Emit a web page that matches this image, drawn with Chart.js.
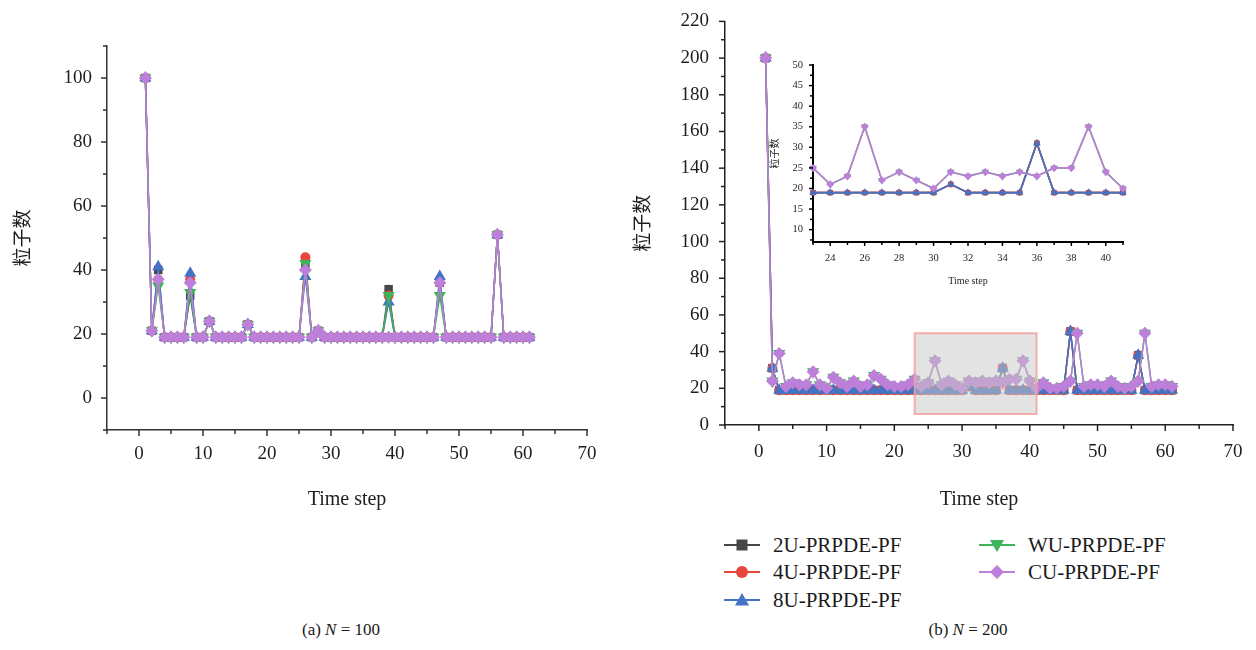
<!DOCTYPE html>
<html>
<head>
<meta charset="utf-8">
<title>粒子数 - Time step</title>
<script src="https://cdn.jsdelivr.net/npm/chart.js@4.4.1/dist/chart.umd.min.js"></script>
<style>
  body { margin: 0; background: #fff; }
  #page { position: relative; width: 1256px; height: 650px; overflow: hidden;
          font-family: "Liberation Serif", "DejaVu Serif", serif; color: #1a1a1a; }
  canvas { position: absolute; }
  .item { position: absolute; height: 24px; line-height: 24px; font-size: 21px; white-space: nowrap; }
  .item svg { position: absolute; left: 0; top: 4px; }
  .item span { position: absolute; left: 49px; top: 0; }
  .caption { position: absolute; top: 620px; font-size: 17px; text-align: center; }
</style>
</head>
<body>
<div id="page">
  <canvas id="chartA" width="620" height="520" style="left:0;top:0;width:620px;height:520px"></canvas>
  <canvas id="chartB" width="636" height="520" style="left:620px;top:0;width:636px;height:520px"></canvas>
  <canvas id="chartInset" width="390" height="245" style="left:760px;top:50px;width:390px;height:245px"></canvas>
  <div id="legend"></div>
  <div class="caption" style="left:0;width:682px">(a) <i>N</i> = 100</div>
  <div class="caption" style="left:680px;width:576px">(b) <i>N</i> = 200</div>
</div>
<script>
const steps = Array.from({ length: 61 }, (_, i) => i + 1);

const names = ['2U-PRPDE-PF', '4U-PRPDE-PF', '8U-PRPDE-PF', 'WU-PRPDE-PF', 'CU-PRPDE-PF'];

// particle counts, N = 100
const a2U = [100, 21, 40, 19, 19, 19, 19, 32, 19, 19,
             24, 19, 19, 19, 19, 19, 23, 19, 19, 19,
             19, 19, 19, 19, 19, 42, 19, 21, 19, 19,
             19, 19, 19, 19, 19, 19, 19, 19, 34, 19,
             19, 19, 19, 19, 19, 19, 36, 19, 19, 19,
             19, 19, 19, 19, 19, 51, 19, 19, 19, 19,
             19];
const a4U = [100, 21, 37, 19, 19, 19, 19, 37, 19, 19,
             24, 19, 19, 19, 19, 19, 23, 19, 19, 19,
             19, 19, 19, 19, 19, 44, 19, 21, 19, 19,
             19, 19, 19, 19, 19, 19, 19, 19, 32, 19,
             19, 19, 19, 19, 19, 19, 36, 19, 19, 19,
             19, 19, 19, 19, 19, 51, 19, 19, 19, 19,
             19];
const a8U = [100, 21, 41, 19, 19, 19, 19, 39, 19, 19,
             24, 19, 19, 19, 19, 19, 23, 19, 19, 19,
             19, 19, 19, 19, 19, 38, 19, 21, 19, 19,
             19, 19, 19, 19, 19, 19, 19, 19, 30, 19,
             19, 19, 19, 19, 19, 19, 38, 19, 19, 19,
             19, 19, 19, 19, 19, 51, 19, 19, 19, 19,
             19];
const aWU = [100, 21, 35, 19, 19, 19, 19, 33, 19, 19,
             24, 19, 19, 19, 19, 19, 23, 19, 19, 19,
             19, 19, 19, 19, 19, 42, 19, 21, 19, 19,
             19, 19, 19, 19, 19, 19, 19, 19, 32, 19,
             19, 19, 19, 19, 19, 19, 32, 19, 19, 19,
             19, 19, 19, 19, 19, 51, 19, 19, 19, 19,
             19];
const aCU = [100, 21, 37, 19, 19, 19, 19, 36, 19, 19,
             24, 19, 19, 19, 19, 19, 23, 19, 19, 19,
             19, 19, 19, 19, 19, 40, 19, 21, 19, 19,
             19, 19, 19, 19, 19, 19, 19, 19, 19, 19,
             19, 19, 19, 19, 19, 19, 36, 19, 19, 19,
             19, 19, 19, 19, 19, 51, 19, 19, 19, 19,
             19];

// particle counts, N = 200
const b2U = [200, 31, 19, 19, 19, 19, 19, 19, 19, 19,
             19, 19, 19, 19, 19, 19, 19, 19, 19, 19,
             19, 19, 19, 19, 19, 19, 19, 19, 19, 19,
             21, 19, 19, 19, 19, 31, 19, 19, 19, 19,
             19, 19, 19, 19, 19, 51, 19, 19, 19, 19,
             19, 19, 19, 19, 19, 38, 19, 19, 19, 19,
             19];
const b4U = [200, 31, 19, 19, 19, 19, 19, 19, 19, 19,
             19, 19, 19, 19, 19, 19, 19, 19, 19, 19,
             19, 19, 19, 19, 19, 19, 19, 19, 19, 19,
             21, 19, 19, 19, 19, 31, 19, 19, 19, 19,
             19, 19, 19, 19, 19, 51, 19, 19, 19, 19,
             19, 19, 19, 19, 19, 38, 19, 19, 19, 19,
             19];
const b8U = [200, 31, 19, 19, 19, 19, 19, 19, 19, 19,
             19, 19, 19, 19, 19, 19, 19, 19, 19, 19,
             19, 19, 19, 19, 19, 19, 19, 19, 19, 19,
             21, 19, 19, 19, 19, 31, 19, 19, 19, 19,
             19, 19, 19, 19, 19, 51, 19, 19, 19, 19,
             19, 19, 19, 19, 19, 38, 19, 19, 19, 19,
             19];
const bWU = [200, 24, 39, 21, 23, 22, 22, 29, 22, 20,
             26, 23, 21, 24, 21, 22, 27, 25, 22, 21,
             21, 22, 25, 21, 23, 35, 22, 24, 22, 20,
             24, 23, 24, 23, 24, 23, 25, 25, 35, 24,
             20, 23, 20, 20, 21, 24, 50, 21, 22, 22,
             21, 24, 21, 20, 21, 24, 50, 21, 22, 22,
             21];
const bCU = [200, 24, 39, 21, 23, 22, 22, 29, 22, 20,
             26, 23, 21, 24, 21, 22, 27, 25, 22, 21,
             21, 22, 25, 21, 23, 35, 22, 24, 22, 20,
             24, 23, 24, 23, 24, 23, 25, 25, 35, 24,
             20, 23, 20, 20, 21, 24, 50, 21, 22, 22,
             21, 24, 21, 20, 21, 24, 50, 21, 22, 22,
             21];

// window shown enlarged in the inset
const insetSteps = [23, 41];
const insetCounts = [6, 50];

const serif = '"Liberation Serif", "DejaVu Serif", serif';
const cjk = '"Noto Sans CJK SC", "Noto Sans CJK JP", sans-serif';

// marker look per method; lower order is drawn on top
const looks = [
  { color: '#474747', shape: 'rect', rot: 0, order: 4, r: 6 },
  { color: '#e8463d', shape: 'circle', rot: 0, order: 3, r: 5 },
  { color: '#4472c4', shape: 'triangle', rot: 0, order: 2, r: 7 },
  { color: '#3db35a', shape: 'triangle', rot: 180, order: 1, r: 7 },
  { color: '#bd7fd9', shape: 'rectRot', rot: 0, order: 0, r: 6.5 }
];

function makeDatasets(list, lineWidth, markerScale, range) {
  return list.map((values, k) => {
    const lk = looks[k];
    let pts = steps.map((s, i) => ({ x: s, y: values[i] }));
    if (range) pts = pts.filter(p => p.x >= range[0] && p.x <= range[1]);
    return {
      label: names[k],
      data: pts,
      order: lk.order,
      borderColor: lk.color,
      backgroundColor: lk.color,
      borderWidth: lineWidth,
      pointStyle: lk.shape,
      pointRotation: lk.rot,
      pointRadius: lk.r * markerScale,
      pointBorderWidth: 0,
      pointHoverRadius: 0,
      tension: 0,
      clip: false
    };
  });
}

function makeAxis(o) {
  return {
    type: 'linear',
    position: o.position,
    min: o.min,
    max: o.max,
    afterFit: s => {
      if (o.position === 'left') s.width = o.size; else s.height = o.size;
    },
    border: { display: true, color: o.axisColor, width: o.axisWidth },
    grid: { display: true, drawOnChartArea: false, drawTicks: true,
            tickLength: o.tickLength, tickColor: 'rgba(0,0,0,0)' },
    ticks: {
      stepSize: o.step,
      autoSkip: false,
      maxRotation: 0,
      padding: o.pad,
      color: '#1e1e1e',
      font: { family: serif, size: o.font },
      callback: v => (Math.abs(v % o.every) < 1e-6 && v >= o.labelFrom && v <= o.labelTo) ? v : ''
    },
    title: {
      display: true,
      text: o.title,
      color: '#1e1e1e',
      font: { family: o.titleFamily, size: o.titleSize },
      padding: o.titlePad
    }
  };
}

// outward tick marks, longer at labelled values
const tickMarks = {
  id: 'tickMarks',
  afterDraw(chart, args, opts) {
    const ctx = chart.ctx;
    ctx.save();
    ctx.strokeStyle = opts.color;
    ctx.lineWidth = opts.width;
    ['x', 'y'].forEach(id => {
      const s = chart.scales[id];
      const o = opts[id];
      for (let v = o.from; v <= o.to + 1e-9; v += o.step) {
        const major = Math.abs(v / o.major - Math.round(v / o.major)) < 1e-6;
        const len = major ? opts.majorLen : opts.minorLen;
        const p = s.getPixelForValue(v);
        ctx.beginPath();
        if (id === 'x') { ctx.moveTo(p, s.top); ctx.lineTo(p, s.top + len); }
        else { ctx.moveTo(s.right, p); ctx.lineTo(s.right - len, p); }
        ctx.stroke();
      }
    });
    ctx.restore();
  }
};

// shaded window marking the inset range
const zoomBox = {
  id: 'zoomBox',
  afterDatasetsDraw(chart, args, o) {
    const { x, y } = chart.scales;
    const l = x.getPixelForValue(o.x[0]), r = x.getPixelForValue(o.x[1]);
    const t = y.getPixelForValue(o.y[1]), b = y.getPixelForValue(o.y[0]);
    const ctx = chart.ctx;
    ctx.save();
    ctx.fillStyle = 'rgba(200, 200, 200, 0.5)';
    ctx.fillRect(l, t, r - l, b - t);
    ctx.strokeStyle = 'rgba(246, 160, 160, 0.85)';
    ctx.lineWidth = 2;
    ctx.strokeRect(l, t, r - l, b - t);
    ctx.restore();
  }
};

const baseOptions = {
  responsive: false,
  animation: false,
  events: [],
  plugins: { legend: { display: false }, tooltip: { enabled: false } }
};

new Chart(document.getElementById('chartA'), {
  type: 'line',
  data: { datasets: makeDatasets([a2U, a4U, a8U, aWU, aCU], 1.5, 1) },
  options: {
    ...baseOptions,
    layout: { padding: { top: 46, right: 33, left: 0, bottom: 0 } },
    scales: {
      x: makeAxis({ position: 'bottom', min: -5, max: 70, step: 5, every: 10, labelFrom: 0, labelTo: 70,
                    size: 90, axisColor: '#333', axisWidth: 1.5, tickLength: 6, pad: 7, font: 19,
                    title: 'Time step', titleFamily: serif, titleSize: 20, titlePad: { top: 0, bottom: 8 } }),
      y: makeAxis({ position: 'left', min: -10, max: 110, step: 10, every: 20, labelFrom: 0, labelTo: 100,
                    size: 107, axisColor: '#333', axisWidth: 1.5, tickLength: 6, pad: 9, font: 19,
                    title: '粒子数', titleFamily: cjk, titleSize: 19, titlePad: { top: 10, bottom: 0 } })
    },
    plugins: {
      ...baseOptions.plugins,
      tickMarks: { color: '#333', width: 1.5, majorLen: 6, minorLen: 4,
                   x: { from: -5, to: 70, step: 5, major: 10 },
                   y: { from: -10, to: 110, step: 10, major: 20 } }
    }
  },
  plugins: [tickMarks]
});

new Chart(document.getElementById('chartB'), {
  type: 'line',
  data: { datasets: makeDatasets([b2U, b4U, b8U, bWU, bCU], 1.5, 1) },
  options: {
    ...baseOptions,
    layout: { padding: { top: 17, right: 23, left: 0, bottom: 0 } },
    scales: {
      x: makeAxis({ position: 'bottom', min: -5, max: 70, step: 5, every: 10, labelFrom: 0, labelTo: 70,
                    size: 95, axisColor: '#222', axisWidth: 1.5, tickLength: 6, pad: 10, font: 19,
                    title: 'Time step', titleFamily: serif, titleSize: 20, titlePad: { top: 0, bottom: 8 } }),
      y: makeAxis({ position: 'left', min: 0, max: 220, step: 10, every: 20, labelFrom: 0, labelTo: 220,
                    size: 105, axisColor: '#222', axisWidth: 1.5, tickLength: 6, pad: 10, font: 19,
                    title: '粒子数', titleFamily: cjk, titleSize: 19, titlePad: { top: 10, bottom: 0 } })
    },
    plugins: {
      ...baseOptions.plugins,
      tickMarks: { color: '#222', width: 1.5, majorLen: 6, minorLen: 4,
                   x: { from: -5, to: 70, step: 5, major: 10 },
                   y: { from: 0, to: 220, step: 10, major: 20 } },
      zoomBox: { x: insetSteps, y: insetCounts }
    }
  },
  plugins: [tickMarks, zoomBox]
});

new Chart(document.getElementById('chartInset'), {
  type: 'line',
  data: { datasets: makeDatasets([b2U, b4U, b8U, bWU, bCU], 1.6, 0.62, insetSteps) },
  options: {
    ...baseOptions,
    layout: { padding: { top: 15, right: 27, left: 0, bottom: 0 } },
    scales: {
      x: makeAxis({ position: 'bottom', min: insetSteps[0], max: insetSteps[1], step: 1, every: 2, labelFrom: 24, labelTo: 40,
                    size: 53, axisColor: '#000', axisWidth: 2, tickLength: 4, pad: 6, font: 10.5,
                    title: 'Time step', titleFamily: serif, titleSize: 10, titlePad: { top: 0, bottom: 8 } }),
      y: makeAxis({ position: 'left', min: 7, max: 50, step: 2.5, every: 5, labelFrom: 10, labelTo: 50,
                    size: 53, axisColor: '#000', axisWidth: 2, tickLength: 4, pad: 6, font: 10.5,
                    title: '粒子数', titleFamily: cjk, titleSize: 10, titlePad: { top: 8, bottom: 0 } })
    },
    plugins: {
      ...baseOptions.plugins,
      tickMarks: { color: '#000', width: 1.5, majorLen: 4, minorLen: 3,
                   x: { from: 23, to: 41, step: 1, major: 2 },
                   y: { from: 7.5, to: 50, step: 2.5, major: 5 } }
    }
  },
  plugins: [tickMarks]
});

// legend: three entries in the first column, two in the second
const legendSpots = [
  { left: 724, top: 533 }, { left: 724, top: 560 }, { left: 724, top: 588 },
  { left: 979, top: 533 }, { left: 979, top: 560 }
];

function markerSvg(lk) {
  const c = lk.color;
  let shape;
  if (lk.shape === 'rect') shape = `<rect x="12.5" y="2.5" width="11" height="11" fill="${c}"/>`;
  else if (lk.shape === 'circle') shape = `<circle cx="18" cy="8" r="6" fill="${c}"/>`;
  else if (lk.shape === 'rectRot') shape = `<polygon points="18,1 25,8 18,15 11,8" fill="${c}"/>`;
  else if (lk.rot === 180) shape = `<polygon points="11,3 25,3 18,15" fill="${c}"/>`;
  else shape = `<polygon points="18,1 25,13.5 11,13.5" fill="${c}"/>`;
  return `<svg width="36" height="16" viewBox="0 0 36 16">` +
         `<line x1="0" y1="8" x2="36" y2="8" stroke="${c}" stroke-width="2"/>${shape}</svg>`;
}

document.getElementById('legend').innerHTML = names.map((n, k) =>
  `<div class="item" style="left:${legendSpots[k].left}px;top:${legendSpots[k].top}px">` +
  `${markerSvg(looks[k])}<span>${n}</span></div>`
).join('');
</script>
</body>
</html>
